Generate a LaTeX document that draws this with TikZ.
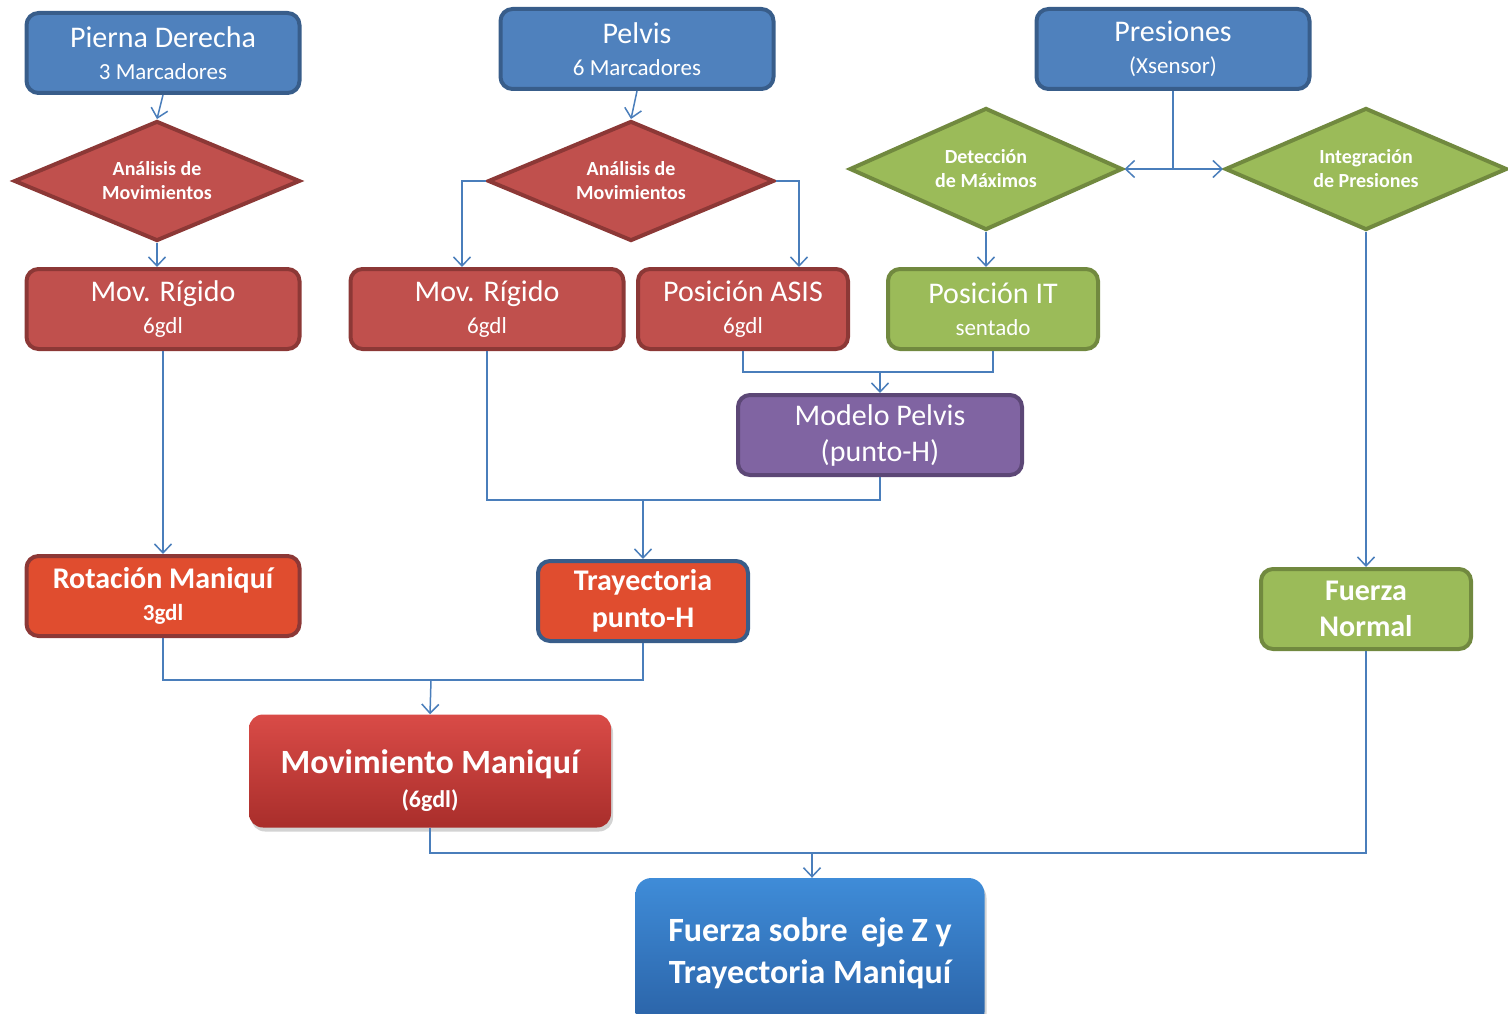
\documentclass[tikz,border=0pt]{standalone}
\usepackage{fontspec}
\setmainfont{Carlito}
\usetikzlibrary{shapes.geometric,arrows.meta,shadows}

\definecolor{azulF}{HTML}{4F81BD}
\definecolor{azulB}{HTML}{385D8A}
\definecolor{rojoF}{HTML}{C0504D}
\definecolor{rojoB}{HTML}{8C3836}
\definecolor{verdeF}{HTML}{9BBB59}
\definecolor{verdeB}{HTML}{71893F}
\definecolor{moradoF}{HTML}{8064A2}
\definecolor{moradoB}{HTML}{5C4776}
\definecolor{naranjaF}{HTML}{E04D2F}
\definecolor{linea}{HTML}{4A7EBB}
\definecolor{mmArriba}{HTML}{D94B47}
\definecolor{mmAbajo}{HTML}{A92E2B}
\definecolor{fzArriba}{HTML}{3F8CD8}
\definecolor{fzAbajo}{HTML}{2A62A6}

\newcommand{\tA}[1]{{\fontsize{30}{34}\selectfont #1}}
\newcommand{\tB}[1]{{\fontsize{23}{28}\selectfont #1}}

\begin{document}
\begin{tikzpicture}[x=1pt,y=-1pt,>={Straight Barb[length=9pt,width=17pt]},
	caja/.style={draw, rounded corners=12pt, line width=4pt, text=white, align=center, inner sep=2pt,
		font=\fontsize{30}{32}\selectfont},
	negrita/.style={font=\bfseries\fontsize{30}{32}\selectfont},
	anchaA/.style={minimum width=273pt, minimum height=80pt},
	anchaB/.style={minimum width=210pt, minimum height=80pt},
	rombo/.style={diamond, draw, line width=4pt, text=white, align=center, inner sep=0pt,
		aspect=2.3, font=\bfseries\fontsize{20}{24}\selectfont},
	flecha/.style={->, draw=linea, line width=1.5pt},
	union/.style={draw=linea, line width=1.5pt}]
	\useasboundingbox (0,0) rectangle (1508,1014);
	%%% Entradas
	\node[caja, anchaA, fill=azulF, draw=azulB] (pierna) at (163,53) {\tA{Pierna Derecha}\\\tB{3 Marcadores}};
	\node[caja, anchaA, fill=azulF, draw=azulB] (pelvis) at (637,49) {\tA{Pelvis}\\\tB{6 Marcadores}};
	\node[caja, anchaA, fill=azulF, draw=azulB] (presion) at (1173,49) {\tA{Presiones}\\\tB{(Xsensor)}};
	%%% Analisis
	\node[rombo, fill=rojoF, draw=rojoB, minimum width=286pt, minimum height=120pt] (anal1) at (157,181) {Análisis de\\Movimientos};
	\node[rombo, fill=rojoF, draw=rojoB, minimum width=286pt, minimum height=120pt] (anal2) at (631,181) {Análisis de\\Movimientos};
	\node[rombo, fill=verdeF, draw=verdeB, minimum width=273pt, minimum height=122pt] (detec) at (986,169) {Detección\\de Máximos};
	\node[rombo, fill=verdeF, draw=verdeB, minimum width=282pt, minimum height=122pt] (integ) at (1366,169) {Integración\\de Presiones};
	%%% Movimientos
	\node[caja, anchaA, fill=rojoF, draw=rojoB] (movr1) at (163,309) {\tA{Mov. Rígido}\\\tB{6gdl}};
	\node[caja, anchaA, fill=rojoF, draw=rojoB] (movr2) at (487,309) {\tA{Mov. Rígido}\\\tB{6gdl}};
	\node[caja, anchaB, fill=rojoF, draw=rojoB] (asis) at (743,309) {\tA{Posición ASIS}\\\tB{6gdl}};
	\node[caja, anchaB, fill=verdeF, draw=verdeB] (posit) at (993,309) {\tA{Posición IT}\\\tB{sentado}};
	\node[caja, minimum width=284pt, minimum height=80pt, fill=moradoF, draw=moradoB] (modelo) at (880,435) {\tA{Modelo Pelvis}\\[4pt]\tA{(punto-H)}};
	%%% Resultados
	\node[caja, negrita, anchaA, fill=naranjaF, draw=rojoB] (rota) at (163,596) {\tA{Rotación Maniquí}\\\tB{3gdl}};
	\node[caja, negrita, anchaB, fill=naranjaF, draw=azulB] (tray) at (643,601) {\tA{Trayectoria}\\[5pt]\tA{punto-H}};
	\node[caja, negrita, anchaB, fill=verdeF, draw=verdeB] (fnorm) at (1366,609) {\tA{Fuerza}\\[4pt]\tA{Normal}};
	\node[rounded corners=14pt, minimum width=362pt, minimum height=113pt, top color=mmArriba, bottom color=mmAbajo,
		drop shadow={shadow xshift=2pt, shadow yshift=-4pt, opacity=0.35}, text=white, align=center,
		font=\bfseries\fontsize{34}{34}\selectfont] (movm) at (430,771)
		{\rule{0pt}{44pt}Movimiento Maniquí\\{\fontsize{24}{30}\selectfont (6gdl)}};
	\node[rounded corners=16pt, minimum width=349pt, minimum height=150pt, top color=fzArriba, bottom color=fzAbajo,
		drop shadow={shadow xshift=2pt, shadow yshift=-4pt, opacity=0.35}, text=white, align=center,
		font=\bfseries\fontsize{34}{42}\selectfont] (fuerza) at (810,953) {Fuerza sobre\, eje Z y\\Trayectoria Maniquí};
	%%% Conexiones
	\coordinate (jp) at (presion.south |- detec.east);
	\coordinate (jm) at (880,372);
	\coordinate (jt) at (643,500);
	\coordinate (jmm) at (431,680);
	\coordinate (jf) at (812,853);
	\draw[flecha] (pierna.south) -- (anal1.north);
	\draw[flecha] (anal1.south) -- (anal1.south |- movr1.north);
	\draw[flecha] (pelvis.south) -- (anal2.north);
	\draw[flecha] (anal2.west) -| ([xshift=-25pt]movr2.north);
	\draw[flecha] (anal2.east) -| ([xshift=56pt]asis.north);
	\draw[union] (presion.south) -- (jp);
	\draw[flecha] (jp) -- (detec.east);
	\draw[flecha] (jp) -- (integ.west);
	\draw[flecha] (detec.south) -- (detec.south |- posit.north);
	\draw[flecha] (asis.south) |- (jm) -- (modelo.north);
	\draw[union] (posit.south) |- (jm);
	\draw[flecha] (movr1.south) -- (rota.north);
	\draw[flecha] (movr2.south) |- (jt) -- (tray.north);
	\draw[union] (modelo.south) |- (jt);
	\draw[union] (rota.south) |- (jmm);
	\draw[union] (tray.south) |- (jmm);
	\draw[flecha] (jmm) -- (movm.north);
	\draw[flecha] (integ.south) -- (fnorm.north);
	\draw[union] (movm.south) |- (jf);
	\draw[union] (fnorm.south) |- (jf);
	\draw[flecha] (jf) -- (jf |- fuerza.north);
\end{tikzpicture}
\end{document}
